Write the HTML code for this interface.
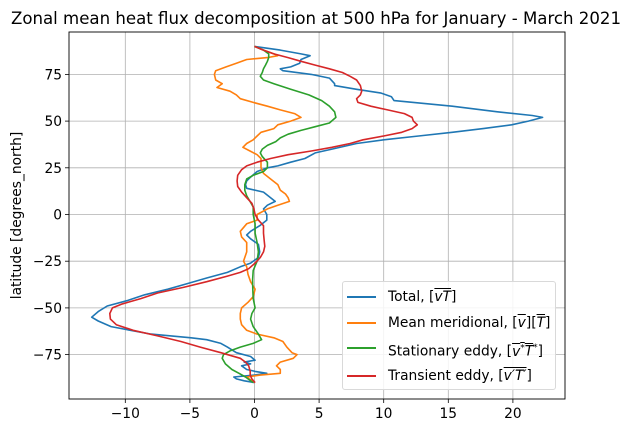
<!DOCTYPE html>
<html><head><meta charset="utf-8">
<style>
body{margin:0;background:#fff;width:633px;height:433px;overflow:hidden;font-family:"DejaVu Sans","Liberation Sans",sans-serif;}
#wrap{position:relative;width:633px;height:433px;}
svg{position:absolute;left:0;top:0;}
.ov{text-decoration:overline;}
#legend{position:absolute;left:342px;top:281px;width:214px;height:109px;border:1px solid #d9d9d9;border-radius:3px;background:rgba(255,255,255,0.85);box-sizing:border-box;}
.le{position:absolute;left:0;height:20px;font-size:13.8px;color:#000;white-space:nowrap;}
.le .ln{position:absolute;left:4px;top:9px;width:29px;height:2px;}
.le .tx{position:absolute;left:45px;top:0;line-height:20px;}
</style></head><body>
<div id="wrap">
<svg id="chart" width="633" height="433"></svg>
<div id="legend">
 <div class="le" style="top:5px"><div class="ln" style="background:#1f77b4"></div><div class="tx">Total, [<span class="ov"><i>vT</i></span>]</div></div>
 <div class="le" style="top:31px"><div class="ln" style="background:#ff7f0e"></div><div class="tx">Mean meridional, [<span class="ov"><i>v</i></span>][<span class="ov"><i>T</i></span>]</div></div>
 <div class="le" style="top:56px"><div class="ln" style="background:#2ca02c"></div><div class="tx">Stationary eddy, [<span class="ov"><i>v</i><sup style="font-size:9px">*</sup></span><span class="ov"><i>T</i></span><sup style="font-size:9px">*</sup>]</div></div>
 <div class="le" style="top:84px"><div class="ln" style="background:#d62728"></div><div class="tx">Transient eddy, [<span class="ov"><i>v′T′</i></span>]</div></div>
</div>
</div>
<script>
const xTicks=[-10,-5,0,5,10,15,20];
const yTicks=[-75,-50,-25,0,25,50,75];
const totalLat=[90,88,86,85,83,81,79,78,77,75,73,70,69,67,65,63,61,58,55,53,52,50,48,46,44,42,40,38,35,33,30,28,26,25,23,20,18,16,14,12,9,7,5,3,0,-3,-6,-9,-11,-13,-16,-20,-23,-26,-28,-31,-34,-37,-40,-43,-46,-49,-52,-55,-57,-60,-62,-64,-66,-67,-69,-71,-74,-76,-78,-79,-80,-81,-83,-84,-85,-86,-87,-88,-89,-90];
const totalVal=[0,2.0,3.6,4.3,3.6,3.5,2.8,2.0,2.2,4.4,5.8,6.2,6.2,7.9,9.8,10.6,10.8,15.3,18.8,21.5,22.3,21.2,19.9,17.7,15.3,12.7,10,7.9,6.0,4.7,3.9,2.8,1.8,1.0,0.2,-0.3,-0.6,-0.7,-0.6,0.7,1.25,1.6,1.0,0.7,0.95,0.95,0.4,-0.3,-0.6,-0.3,0.3,0.4,0.3,-0.3,-1.1,-2.1,-3.7,-5.2,-6.7,-8.5,-9.8,-11.4,-12.1,-12.6,-12.1,-11.1,-9.6,-8.0,-4.9,-3.7,-2.6,-2.1,-1.4,-0.3,0.05,-0.8,-0.3,-1.0,-0.6,0.05,0.95,0,-1.6,-1.4,-0.8,0];
const meanLat=[90,88,86,85,84,83,81,79,77,75,72,70,69,68,66,64,62,60,58,56,54,52,50,48,46,44,42,40,38,36,34,32,30,28,25,22,19,16,13,11,9,7,5,3,0,-3,-5,-9,-12,-15,-20,-25,-28,-32,-36,-40,-44,-47,-50,-53,-56,-59,-62,-64,-66,-68,-71,-74,-75,-77,-79,-81,-83,-85,-86,-87,-89,-90];
const meanVal=[0,0.7,1.5,1.8,1.0,-0.6,-1.4,-2.2,-3.0,-3.1,-3.0,-2.5,-2.7,-2.9,-1.9,-1.4,-1.1,-0.1,1.0,2.0,3.1,3.6,2.8,1.8,1.5,0.5,0.2,-0.1,-0.6,-0.9,-0.35,0.2,0.5,0.5,0.5,0.7,1.25,1.8,2.0,2.4,2.6,2.7,1.8,1.0,0.2,0.2,-0.6,-1.1,-1.0,-0.6,-0.6,-0.85,-0.6,-0.5,-0.3,0.05,-0.1,-0.5,-1.0,-1.1,-1.1,-1.0,-0.6,0.2,1.5,2.2,2.5,2.9,3.3,3.0,2.0,1.7,2.0,2.0,0.45,-0.6,-0.2,0.05];
const statLat=[90,88,86,84,82,80,78,76,74,72,70,67,64,61,58,55,52,49,47,45,43,41,39,37,35,33,31,28,25,23,21,19,16,13,10,7,4,0,-5,-10,-15,-20,-25,-30,-35,-40,-45,-50,-53,-56,-60,-64,-67,-69,-71,-73,-75,-77,-80,-83,-85,-87,-90];
const statVal=[0,0.7,1.1,1.1,1.0,0.85,0.7,0.6,0.45,0.7,1.5,2.8,4.2,5.2,5.8,6.2,6.3,5.8,4.7,3.6,2.6,2.0,1.65,1.0,0.6,0.45,0.6,1.0,1.0,0.7,-0.1,-0.6,-0.75,-0.75,-0.6,-0.35,-0.1,-0.1,0.05,0.05,0.2,0.3,0.2,-0.1,-0.15,-0.13,-0.1,0.05,-0.2,-0.3,-0.1,0.3,0.55,-0.1,-1.1,-1.9,-2.4,-2.5,-2.25,-1.75,-1.2,-0.7,-0.1];
const transLat=[90,88,86,84,82,80,78,76,74,72,69,66,64,62,60,58,56,54,52,50,48,46,44,42,40,38,36,34,32,30,28,26,24,21,18,15,12,9,6,3,0,-3,-6,-10,-14,-17,-20,-23,-26,-29,-31,-33,-36,-39,-42,-45,-48,-50,-53,-56,-59,-62,-65,-68,-71,-74,-77,-79,-81,-84,-86,-88,-90];
const transVal=[0,0.7,1.5,2.6,3.6,4.7,5.8,6.8,7.4,7.9,8.2,8.3,8.2,7.9,8.0,9.0,10.3,11.6,12.2,12.3,12.6,12.2,11.4,10.0,8.4,7.4,6.0,4.4,2.6,1.25,0.2,-0.6,-1.0,-1.3,-1.35,-1.3,-1.0,-0.6,-0.2,-0.05,0.05,0.3,0.7,0.7,0.75,0.8,0.7,0.45,0.05,-0.45,-1.1,-2.1,-3.7,-5.5,-7.5,-8.8,-10.3,-11.0,-11.2,-11.15,-10.7,-9.4,-7.5,-5.7,-4.2,-2.6,-1.1,-0.7,-0.45,-0.33,-0.33,-0.2,0.05];

const L=69,R=565,T=32,B=399;
const xs=v=>254.5+v*12.92;
const ys=v=>214.5-v*1.868;
const NS='http://www.w3.org/2000/svg';
const svg=document.getElementById('chart');
function mk(tag,attrs,parent){const e=document.createElementNS(NS,tag);for(const k in attrs)e.setAttribute(k,attrs[k]);(parent||svg).appendChild(e);return e;}
const clip=mk('clipPath',{id:'clip'});mk('rect',{x:L,y:T,width:R-L,height:B-T},clip);
xTicks.forEach(t=>{
 const g=mk('line',{x1:xs(t),x2:xs(t),y1:T,y2:B,stroke:'#b0b0b0','stroke-width':0.8});
 
 
 mk('line',{x1:xs(t),x2:xs(t),y1:B,y2:B+4,stroke:'#000','stroke-width':0.8});
 const tx=mk('text',{x:xs(t),y:B+19,'text-anchor':'middle','font-size':13.8,fill:'#000'});
 tx.textContent=t<0?'\u2212'+Math.abs(t):String(t);
 
 
});
yTicks.forEach(t=>{
 const g=mk('line',{x1:L,x2:R,y1:ys(t),y2:ys(t),stroke:'#b0b0b0','stroke-width':0.8});
 
 
 mk('line',{x1:L-4,x2:L,y1:ys(t),y2:ys(t),stroke:'#000','stroke-width':0.8});
 const tx=mk('text',{x:L-7,y:ys(t)+5,'text-anchor':'end','font-size':13.8,fill:'#000'});
 tx.textContent=t<0?'\u2212'+Math.abs(t):String(t);
 
 
});
const series=[[totalLat,totalVal,'#1f77b4','series-total'],[meanLat,meanVal,'#ff7f0e','series-mean-meridional'],[statLat,statVal,'#2ca02c','series-stationary-eddy'],[transLat,transVal,'#d62728','series-transient-eddy']];
series.forEach(s=>{
 const d=s[0].map((la,i)=>(i?'L':'M')+xs(s[1][i]).toFixed(1)+','+ys(la).toFixed(1)).join('');
 const p=mk('path',{d:d,fill:'none',stroke:s[2],'stroke-width':1.6,'stroke-linejoin':'round','clip-path':'url(#clip)'});
 
 
});
const fr=mk('rect',{x:L,y:T,width:R-L,height:B-T,fill:'none',stroke:'#000','stroke-width':0.9});


const ti=mk('text',{x:316,y:24,'text-anchor':'middle','font-size':16.6,fill:'#000'});
ti.textContent='Zonal mean heat flux decomposition at 500 hPa for January - March 2021';


const yl=mk('text',{x:0,y:0,'text-anchor':'middle','font-size':13.8,fill:'#000',transform:'translate(21,'+((T+B)/2)+') rotate(-90)'});
yl.textContent='latitude [degrees_north]';


</script>
</body></html>
